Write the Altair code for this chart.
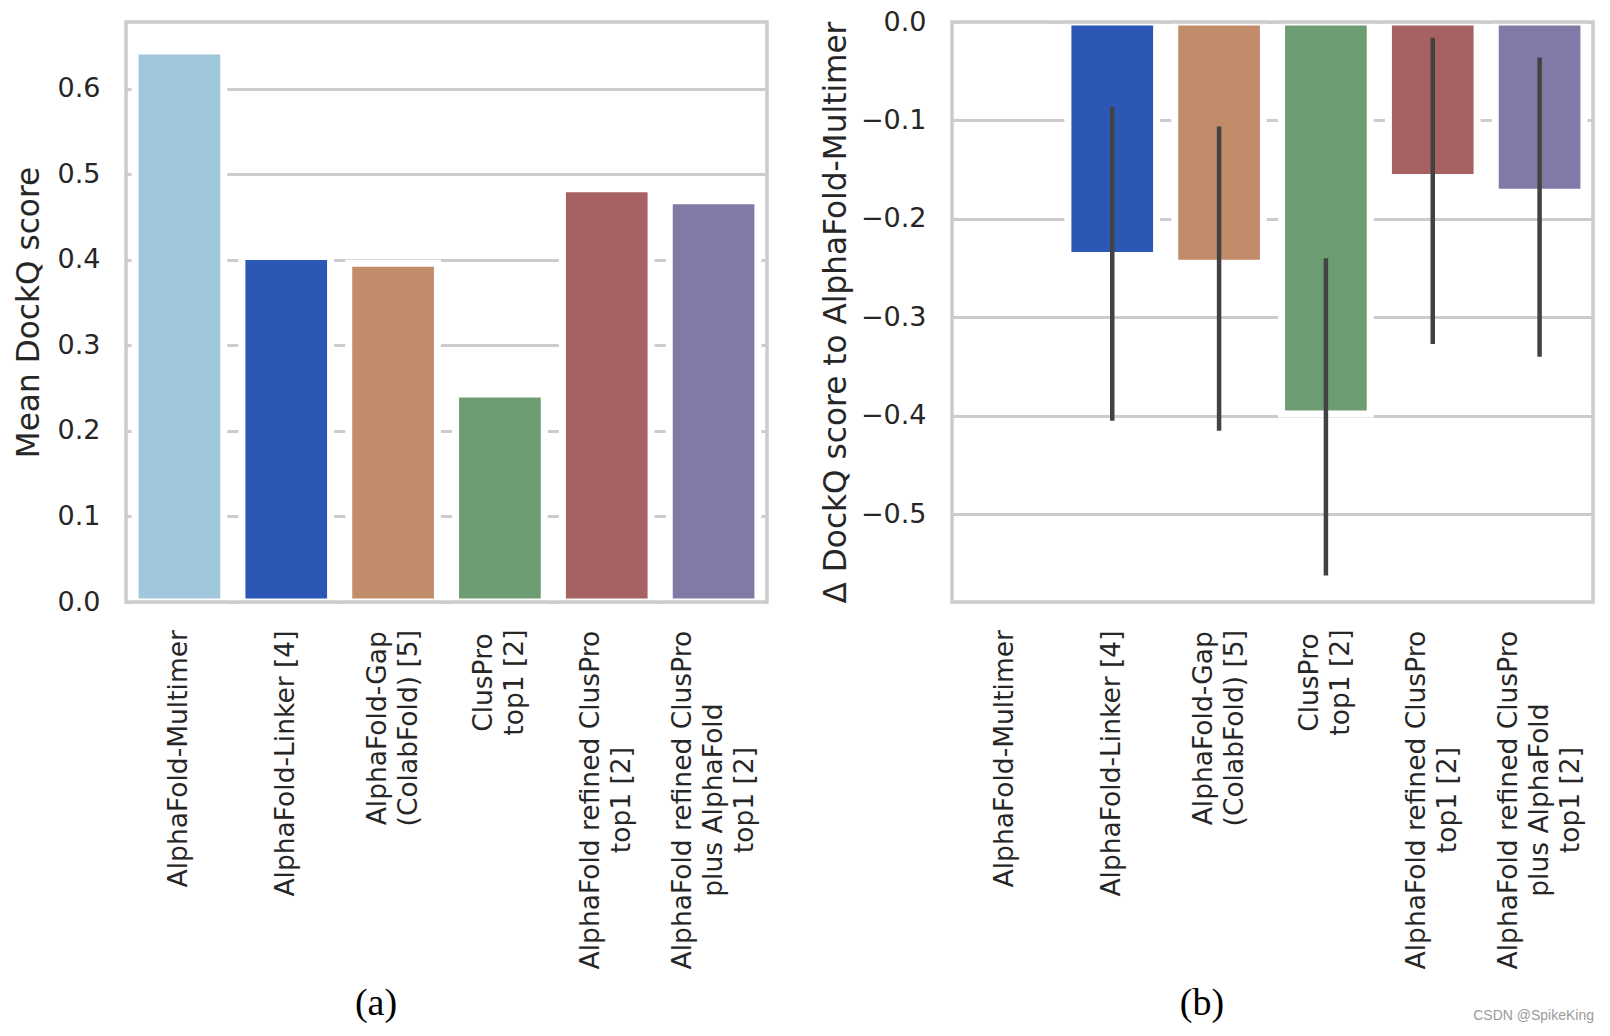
import json
import altair as alt
import pandas as pd

# ---- data ----
methods = [
    "AlphaFold-Multimer",
    "AlphaFold-Linker [4]",
    "AlphaFold-Gap\n(ColabFold) [5]",
    "ClusPro\ntop1 [2]",
    "AlphaFold refined ClusPro\ntop1 [2]",
    "AlphaFold refined ClusPro\nplus AlphaFold\ntop1 [2]",
]
mean_dockq = [0.644, 0.404, 0.396, 0.243, 0.483, 0.469]
delta_dockq = [0.0, -0.237, -0.245, -0.398, -0.158, -0.173]
ci_low = [0.0, -0.405, -0.415, -0.562, -0.327, -0.340]
ci_high = [0.0, -0.086, -0.106, -0.240, -0.016, -0.036]
bar_colors = ["#a0c7dc", "#2c58b5", "#c28b6a", "#6c9d72", "#a86163", "#8279a7"]
left_ticks = [0.0, 0.1, 0.2, 0.3, 0.4, 0.5, 0.6]
right_ticks = [0.0, -0.1, -0.2, -0.3, -0.4, -0.5]

df = pd.DataFrame({
    "method": methods,
    "mean": mean_dockq,
    "delta": delta_dockq,
    "lo": ci_low,
    "hi": ci_high,
})

W, H = 641, 580
XFS = 26.5   # x tick label font size
YFS = 27     # y tick label font size
TFS = 31.2   # axis title font size
LH = 31      # line height of multi-line labels
TEXT = "#262626"
GRID = "#cccccc"

# DejaVu Sans advance widths (em) to centre multi-line rotated labels
ADV = {" ": .318, "(": .390, ")": .390, "[": .390, "]": .390, "-": .361,
       "A": .684, "C": .698, "F": .575, "G": .770, "L": .557, "M": .863, "P": .603,
       "a": .613, "b": .635, "c": .550, "d": .635, "e": .615, "f": .352, "h": .634,
       "i": .278, "k": .579, "l": .278, "m": .974, "n": .634, "o": .612, "p": .635,
       "r": .411, "s": .521, "t": .392, "u": .634}
def em(s):
    return sum(ADV.get(c, .636) for c in s)

base_pad = 27
pad_conds = [{"test": f"datum.value === {json.dumps(m)}",
              "value": round(base_pad + XFS * max(em(l) for l in m.split("\n")) / 2, 1)}
             for m in methods]
off_conds = [{"test": f"datum.value === {json.dumps(m)}",
              "value": -(m.count("\n")) * LH / 2}
             for m in methods if "\n" in m]

x_axis = alt.Axis(
    title=None, domain=False, ticks=False, labelAngle=270, labelAlign="center",
    labelBaseline="middle", labelExpr="split(datum.label, '\\n')",
    labelLineHeight=LH, labelOverlap=False, labelLimit=0, labelFontSize=XFS,
    labelPadding={"condition": pad_conds, "value": base_pad},
    labelOffset={"condition": off_conds, "value": 0},
)
x_enc = alt.X("method:N", sort=methods, axis=x_axis,
              scale=alt.Scale(paddingInner=0.17, paddingOuter=0.085))
color_enc = alt.Color("method:N", scale=alt.Scale(domain=methods, range=bar_colors), legend=None)

frame_df = pd.DataFrame({"f": [0]})
frame = alt.Chart(frame_df).mark_rect(fillOpacity=0, stroke=GRID, strokeWidth=3.5).encode(
    x=alt.value(0), x2=alt.value("width"), y=alt.value(0), y2=alt.value("height"))

left_bars = alt.Chart(df).mark_bar(stroke="white", strokeWidth=7).encode(
    x=x_enc,
    y=alt.Y("mean:Q", scale=alt.Scale(domain=[0, 0.678], nice=False),
            axis=alt.Axis(title="Mean DockQ score", values=left_ticks, format=".1f")),
    color=color_enc,
)
cap_a = alt.Chart(pd.DataFrame({"t": ["(a)"]})).mark_text(
    font="Liberation Serif", fontSize=38, color="black", align="center", baseline="middle"
).encode(text="t:N", x=alt.value(250), y=alt.value(982))

left = alt.layer(left_bars, frame, cap_a).properties(width=W, height=H)

right_bars = alt.Chart(df).mark_bar(stroke="white", strokeWidth=7).encode(
    x=x_enc,
    y=alt.Y("delta:Q", scale=alt.Scale(domain=[-0.589, 0], nice=False, zero=False),
            axis=alt.Axis(title="Δ DockQ score to AlphaFold-Multimer", values=right_ticks,
                          format=".1f", titlePadding=8)),
    color=color_enc,
)
right_err = alt.Chart(df).mark_rule(color="#424242", strokeWidth=4.5).encode(
    x=alt.X("method:N", sort=methods), y="lo:Q", y2="hi:Q")
cap_b = alt.Chart(pd.DataFrame({"t": ["(b)"]})).mark_text(
    font="Liberation Serif", fontSize=38, color="black", align="center", baseline="middle"
).encode(text="t:N", x=alt.value(250), y=alt.value(982))
mark_wm = alt.Chart(pd.DataFrame({"t": ["CSDN @SpikeKing"]})).mark_text(
    font="Liberation Sans", fontSize=14, color="#9a9a9a", align="right", baseline="alphabetic"
).encode(text="t:N", x=alt.value(642), y=alt.value(998))

right = alt.layer(right_bars, right_err, frame, cap_b, mark_wm).properties(width=W, height=H)

chart = alt.hconcat(left, right, spacing=185, bounds="flush").properties(
    padding={"left": 5, "top": 0, "right": 0, "bottom": 0}
).configure_view(stroke=None).configure_axis(
    labelFont="DejaVu Sans", labelFontSize=YFS, labelColor=TEXT,
    titleFont="DejaVu Sans", titleFontSize=TFS, titleColor=TEXT, titleFontWeight="normal",
    titlePadding=12, gridColor=GRID, gridWidth=3, gridOpacity=1,
).configure_axisY(
    domain=False, ticks=False, labelPadding=26, grid=True,
).configure_axisX(grid=False)

chart.save("out.html", embed_options={"renderer": "svg", "actions": False})
